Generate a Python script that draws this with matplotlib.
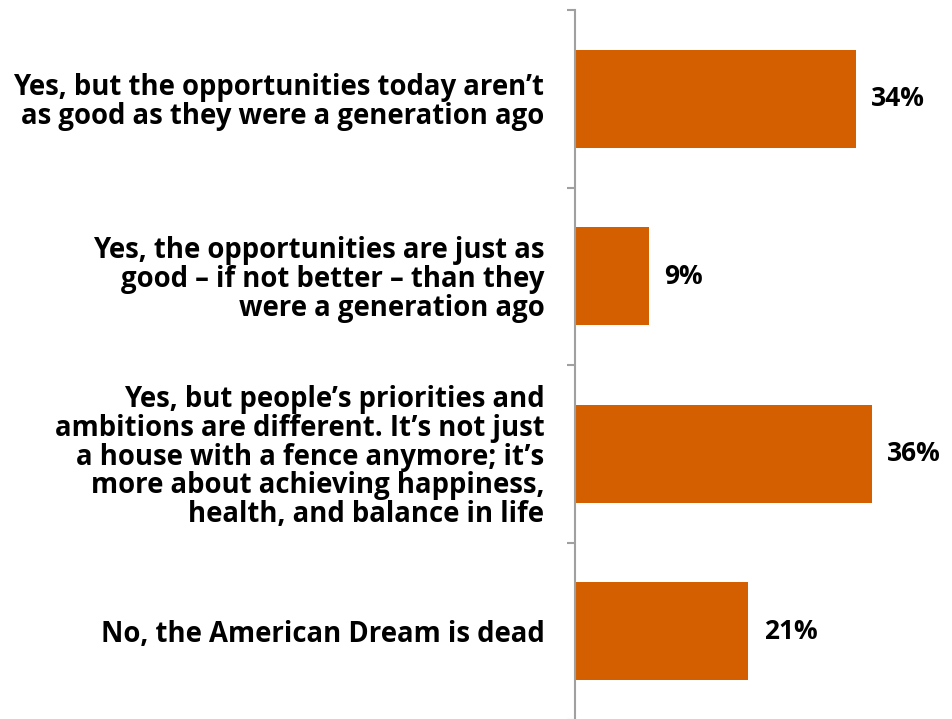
import matplotlib.pyplot as plt
from matplotlib.ticker import FixedLocator

labels = [
    "Yes, but the opportunities today aren\u2019t\nas good as they were a generation ago",
    "Yes, the opportunities are just as\ngood \u2013 if not better \u2013 than they\nwere a generation ago",
    "Yes, but people\u2019s priorities and\nambitions are different. It\u2019s not just\na house with a fence anymore; it\u2019s\nmore about achieving happiness,\nhealth, and balance in life",
    "No, the American Dream is dead",
]
values = [34, 9, 36, 21]

plt.rcParams['font.family'] = ['Open Sans', 'DejaVu Sans']

fig = plt.figure(figsize=(9.53, 7.19), dpi=100)
ax = fig.add_axes([575 / 953, -1 / 719, 1 - 575 / 953, 710 / 719])

pos = list(range(len(values)))
ax.barh(pos, values, height=0.55, color='#D35F00')

for p, v in zip(pos, values):
    ax.annotate(f"{v}%", (v, p), xytext=(11, 0), textcoords='offset points',
                va='center', ha='left', fontsize=19, fontweight='bold')

ax.set_xlim(0, 45.8)
ax.set_ylim(len(values) - 0.5, -0.5)

# tick marks between categories, labels at category centres
ax.yaxis.set_major_locator(FixedLocator([i - 0.5 for i in range(len(values) + 1)]))
ax.yaxis.set_major_formatter(plt.NullFormatter())
ax.tick_params(axis='y', which='major', length=6, width=1.5, color='#A0A0A0')
ax.set_yticks(pos, labels, minor=True)
ax.tick_params(axis='y', which='minor', length=0, pad=22, labelsize=19.8)
for t in ax.get_yticklabels(minor=True):
    t.set_fontweight('bold')
    t.set_ha('right')
    t.set_multialignment('right')
    t.set_linespacing(0.98)

ax.set_xticks([])
for s in ['top', 'right', 'bottom']:
    ax.spines[s].set_visible(False)
ax.spines['left'].set_color('#A0A0A0')
ax.spines['left'].set_linewidth(1.5)

fig.savefig('out.png', dpi=100)
